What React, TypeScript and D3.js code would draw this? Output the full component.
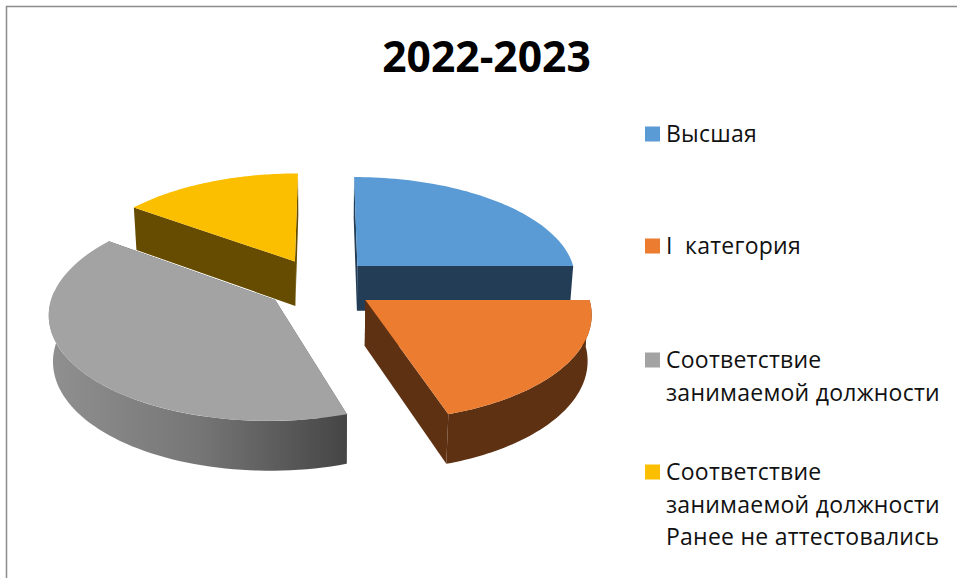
import React from "react";
import * as d3 from "d3";

const title = "2022-2023";
const categories = ["Высшая", "I  категория", "Соответствие занимаемой должности", "Соответствие занимаемой должности Ранее не аттестовались"];
const legendLines = [["Высшая"], ["I  категория"], ["Соответствие", "занимаемой должности"], ["Соответствие", "занимаемой должности", "Ранее не аттестовались"]];
const values = [25, 20, 40, 15];
const topColors = ["#5A9AD5", "#EB7C30", "#A3A3A3", "#FCBF00"];
const wallColors = ["#223D55", "#5E3113", "#4a4a4a", "#654C00"];
const explodeX = [0.15, 0.18, -0.222, -0.14];
const explodeY = [-0.169, 0.162, 0.162, -0.215];
const legendY = [134, 246, 360, 472];

const W = 957, H = 578;
const cx = 325, cy = 283, A = 220, B = 102.8, k = 0.115, H3 = 46;

function project(X: number, Y: number, z: number): [number, number] {
  const w = 1 - k * Y + 0.015 * z;
  return [cx + (A * X) / w, cy + (B * Y + H3 * z) / w];
}

const pieLayout = d3.pie<number>().sort(null)(values);
const line = d3.line();

function rimPoint(i: number, t: number, z: number): [number, number] {
  return project(explodeX[i] + Math.sin(t), explodeY[i] - Math.cos(t), z);
}
function arcSamples(a: number, b: number): number[] {
  return d3.range(0, 61).map((n) => a + ((b - a) * n) / 60);
}

const FRONT_A = Math.PI / 2;
const FRONT_B = (275 / 180) * Math.PI;
const drawOrder = [3, 0, 2, 1];

export default function App() {
  const slices = drawOrder.map((i) => {
    const s = pieLayout[i];
    const apexT = project(explodeX[i], explodeY[i], 0);
    const apexB = project(explodeX[i], explodeY[i], 1);
    const wall = (t: number) => line([apexT, rimPoint(i, t, 0), rimPoint(i, t, 1), apexB])! + "Z";
    const top = line([apexT, ...arcSamples(s.startAngle, s.endAngle).map((t) => rimPoint(i, t, 0))])! + "Z";
    const a = Math.max(s.startAngle, FRONT_A), b = Math.min(s.endAngle, FRONT_B);
    const rim = b > a
      ? line([
          ...arcSamples(a, b).map((t) => rimPoint(i, t, 0)),
          ...arcSamples(b, a).map((t) => rimPoint(i, t, 1)),
        ])! + "Z"
      : null;
    return { i, top, rim, walls: [wall(s.startAngle), wall(s.endAngle)] };
  });

  const font = "'Open Sans', sans-serif";
  return (
    <svg width={W} height={H} viewBox={`0 0 ${W} ${H}`} style={{ position: "absolute", left: 0, top: 0, display: "block", background: "#fff" }}>
      <defs>
        <linearGradient id="grayRim" gradientUnits="userSpaceOnUse" x1={50} x2={347} y1={0} y2={0}>
          <stop offset="0" stopColor="#909090" />
          <stop offset="0.5" stopColor="#767676" />
          <stop offset="1" stopColor="#454545" />
        </linearGradient>
      </defs>
      <path d="M6.5 578V6.5H957" fill="none" stroke="#8c8c8c" strokeWidth={1.5} />
      <text x={486.5} y={72} textAnchor="middle" fontFamily={font} fontWeight={700} fontSize={42.6} fill="#000">{title}</text>
      {slices.map((s) => (
        <g key={categories[s.i]}>
          {s.walls.map((d, n) => <path key={n} d={d} fill={wallColors[s.i]} />)}
          {s.rim && <path d={s.rim} fill={s.i === 2 ? "url(#grayRim)" : wallColors[s.i]} />}
          <path d={s.top} fill={topColors[s.i]} />
        </g>
      ))}
      {legendLines.map((lines, i) => (
        <g key={i}>
          <rect x={645} y={legendY[i] - 7.5} width={15} height={15} fill={topColors[i]} />
          {lines.map((t, j) => (
            <text key={j} x={666} y={legendY[i] + 8 + j * 32.5} fontFamily={font} fontSize={23} letterSpacing={0.25} fill="#111" xmlSpace="preserve" style={{ whiteSpace: "pre" }}>{t}</text>
          ))}
        </g>
      ))}
    </svg>
  );
}
